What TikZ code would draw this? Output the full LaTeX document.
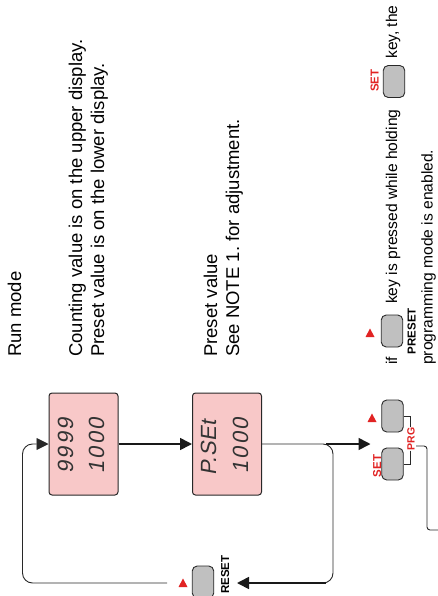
\documentclass[tikz,border=0pt]{standalone}
\usepackage{fontspec}
\setmainfont{Liberation Sans}
\newfontfamily\segfont[FakeSlant=0.18, LetterSpace=10]{Liberation Sans}
\newfontfamily\segfontB[FakeSlant=0.18, LetterSpace=2]{Liberation Sans}
\usetikzlibrary{arrows.meta}
\definecolor{dispfill}{RGB}{248,200,200}
\definecolor{keyfill}{RGB}{192,192,192}
\definecolor{keyred}{RGB}{225,35,35}
\definecolor{edgecol}{RGB}{40,40,40}
\frenchspacing
\begin{document}
\begin{tikzpicture}[x=1pt,y=-1pt,
  disp/.style={draw=edgecol, line width=1pt, fill=dispfill, rounded corners=3pt, minimum width=69pt, minimum height=102pt, inner sep=0pt},
  keybox/.style={draw=edgecol, line width=0.9pt, fill=keyfill, rounded corners=5pt, minimum width=21.5pt, minimum height=32pt, inner sep=0pt},
  maintxt/.style={rotate=90, anchor=base west, inner sep=0pt, font=\fontsize{18.5}{22}\selectfont\frenchspacing},
  sidetxt/.style={rotate=90, anchor=base west, inner sep=0pt, font=\fontsize{15.6}{18}\selectfont\frenchspacing},
  segtxt/.style={rotate=90, anchor=base west, inner sep=0pt, font=\fontsize{22}{24}\segfont, text=black!80},
  keylbl/.style={rotate=90, anchor=base, inner sep=0pt, font=\fontsize{11.5}{12}\selectfont\bfseries},
  redlbl/.style={keylbl, text=keyred},
  conline/.style={draw=edgecol, line width=0.9pt},
  boldline/.style={draw=black!90, line width=1.6pt},
  tiparrow/.style={-{Triangle[length=12pt,width=12pt]}},
  redtri/.style={fill=keyred},
]
\useasboundingbox (0,0) rectangle (437,596);

% texts
\node[maintxt] (runmode) at (21,357) {Run mode};
\node[maintxt] (count1) at (82,357) {Counting value is on the upper display.};
\node[maintxt] (count2) at (104,357) {Preset value is on the lower display.};
\node[maintxt] (pre1) at (217,357) {Preset value};
\node[maintxt] (pre2) at (239,357) {See NOTE 1. for adjustment.};

% displays
\node[disp] (disp1) at (83.5,444) {};
\node[disp] (disp2) at (227,444) {};
\node[segtxt] (d1a) at (73,474) {9999};
\node[segtxt] (d1b) at (104,474) {1000};
\node[segtxt, font=\fontsize{22}{24}\segfontB] (d2a) at (216,476) {P.SEt};
\node[segtxt] (d2b) at (248,474) {1000};

% keys
\node[keybox] (resetkey) at (203,582) {};
\node[keybox] (upkey) at (392.5,416) {};
\node[keybox] (setkey) at (392.5,464) {};
\node[keybox] (presetkey) at (392,331) {};
\node[keybox] (setkeyB) at (394,81.5) {};

% key labels
\node[keylbl, anchor=base west] (resetlbl) at (229,594) {RESET};
\node[keylbl] (presetlbl) at (415.5,331) {PRESET};
\node[redlbl] (setlbl) at (381,466) {SET};
\node[redlbl] (setlblB) at (378.5,80.5) {SET};
\node[redlbl, font=\fontsize{10.5}{11}\selectfont\bfseries] (prglbl) at (414.5,439) {PRG};

% red triangles
\fill[redtri] (183,583) ++(-4.5,4) -- ++(9,0) -- ++(-4.5,-8.5) -- cycle;
\fill[redtri] (372,418) ++(-4.5,4) -- ++(9,0) -- ++(-4.5,-8.5) -- cycle;
\fill[redtri] (370,333) ++(-4.5,4) -- ++(9,0) -- ++(-4.5,-8.5) -- cycle;

% side text
\node[sidetxt] (iftxt) at (397,365) {if};
\node[sidetxt] (keypress) at (397,304) {key is pressed while holding};
\node[sidetxt] (keythe) at (397,59) {key, the};
\node[sidetxt] (prog) at (432.5,365) {programming mode is enabled.};

% coordinates
\coordinate (resetout) at (167,583);
\coordinate (resettip) at (237,583);
\coordinate (keytip) at (370.5,444);
\coordinate (prgout) at (416,446);

% connectors
\draw[boldline, tiparrow] (disp1) -- (disp2);
\draw[conline, rounded corners=10pt] (disp2.east) -- (333,444) -- (333,583) -- (300,583);
\draw[boldline, tiparrow] (326,583) -- (resettip);
\draw[boldline, tiparrow] (326,444) -- (keytip);
\draw[conline, rounded corners=10pt, tiparrow] (resetout) -- (22.5,583) -- (22.5,444) -- (disp1.west);
\draw[conline] (upkey.east) -| (prglbl.east);
\draw[conline] (prglbl.west) |- (setkey.east);
\draw[conline, rounded corners=3pt] (prgout) -- (427,446) -- (427,530) -- (445,530);
\end{tikzpicture}
\end{document}
